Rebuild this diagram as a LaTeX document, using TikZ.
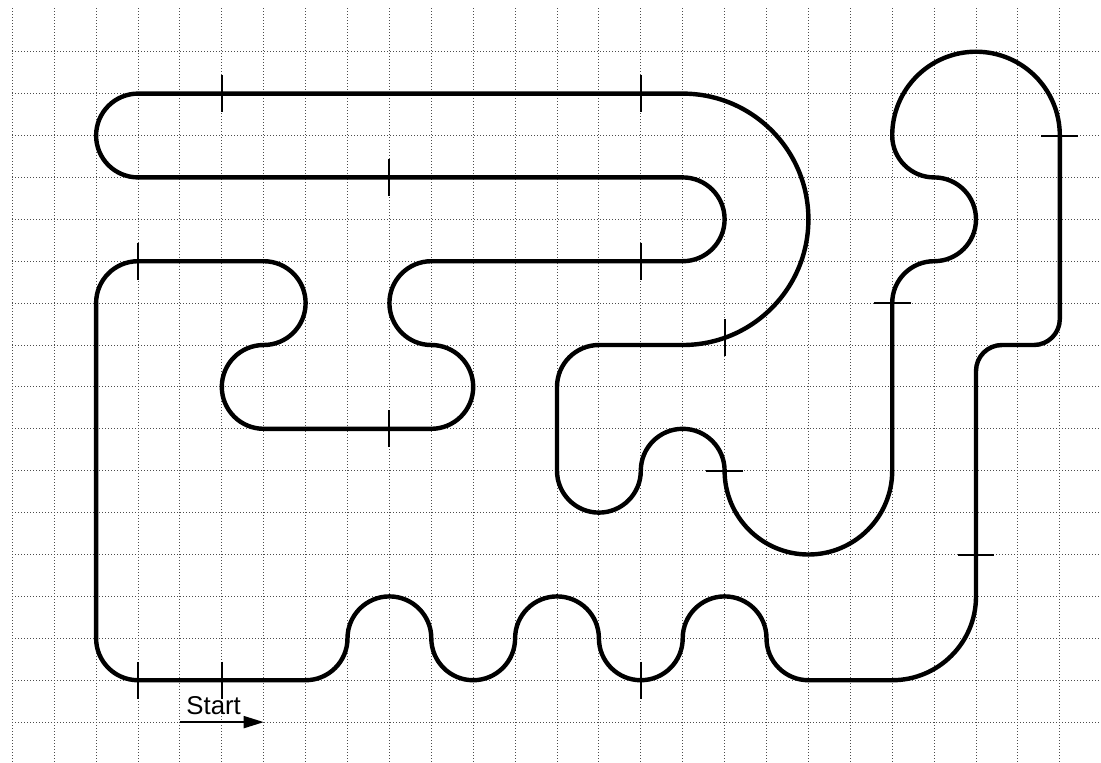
\documentclass[tikz,border=0pt]{standalone}
\usepackage{fontspec}
\setmainfont{Liberation Sans}
\usetikzlibrary{arrows.meta}

\begin{document}
\begin{tikzpicture}[
  gridline/.style={black!70, line width=0.68pt, dash pattern=on 0.679pt off 1.358pt},
  track/.style={line width=3pt, black, line join=round},
  tickmark/.style={line width=1.35pt, black},
  startarrow/.style={line width=1.1pt, -{Triangle[length=0.48cm,width=0.29cm]}},
  label/.style={anchor=base west, inner sep=0pt, font=\fontsize{17.5}{19}\selectfont}
]
\useasboundingbox (-0.2936,0.2339) rectangle (25.983,-17.952);
\fill[white] (-0.2936,0.2339) rectangle (25.983,-17.952);
% grid
\foreach \i in {0,...,25} \draw[gridline] (\i,0.04) -- (\i,-17.952);
\foreach \j in {1,...,17} \draw[gridline] (0,-\j) -- (25.983,-\j);
% track
\draw[track] (3,-16) -- (7,-16)
 arc[start angle=270,end angle=360,radius=1]
 arc[start angle=180,end angle=0,radius=1]
 arc[start angle=180,end angle=360,radius=1]
 arc[start angle=180,end angle=0,radius=1]
 arc[start angle=180,end angle=360,radius=1]
 arc[start angle=180,end angle=0,radius=1]
 arc[start angle=180,end angle=270,radius=1]
 -- (21,-16)
 arc[start angle=270,end angle=360,radius=2]
 -- (23,-8.62)
 arc[start angle=180,end angle=90,radius=0.62]
 -- (24.38,-8)
 arc[start angle=270,end angle=360,radius=0.62]
 -- (25,-3)
 arc[start angle=0,end angle=180,radius=2]
 arc[start angle=180,end angle=270,radius=1]
 arc[start angle=90,end angle=-90,radius=1]
 arc[start angle=90,end angle=180,radius=1]
 -- (21,-11)
 arc[start angle=0,end angle=-180,radius=2]
 arc[start angle=0,end angle=180,radius=1]
 arc[start angle=0,end angle=-180,radius=1]
 -- (13,-9)
 arc[start angle=180,end angle=90,radius=1]
 -- (16,-8)
 arc[start angle=-90,end angle=90,radius=3]
 -- (3,-2)
 arc[start angle=90,end angle=270,radius=1]
 -- (16,-4)
 arc[start angle=90,end angle=-90,radius=1]
 -- (10,-6)
 arc[start angle=90,end angle=270,radius=1]
 arc[start angle=90,end angle=-90,radius=1]
 -- (6,-10)
 arc[start angle=270,end angle=90,radius=1]
 arc[start angle=-90,end angle=90,radius=1]
 -- (3,-6)
 arc[start angle=90,end angle=180,radius=1]
 -- (2,-15)
 arc[start angle=180,end angle=270,radius=1]
 -- cycle;
% vertical tick marks
\foreach \x/\y in {5/-2,15/-2,9/-4,15/-6,3/-6,17/-7.828,9/-10,15/-16,3/-16,5/-16}
  \draw[tickmark] (\x,\y+0.44) -- (\x,\y-0.44);
% horizontal tick marks
\foreach \x/\y in {25/-3,21/-7,17/-11,23/-13}
  \draw[tickmark] (\x-0.44,\y) -- (\x+0.44,\y);
% start label and arrow
\node[label] (startlabel) at (4.15,-16.83) {Start};
\coordinate (arrowfrom) at (4,-17);
\coordinate (arrowto) at (6,-17);
\draw[startarrow] (arrowfrom) -- (arrowto);
\end{tikzpicture}
\end{document}
